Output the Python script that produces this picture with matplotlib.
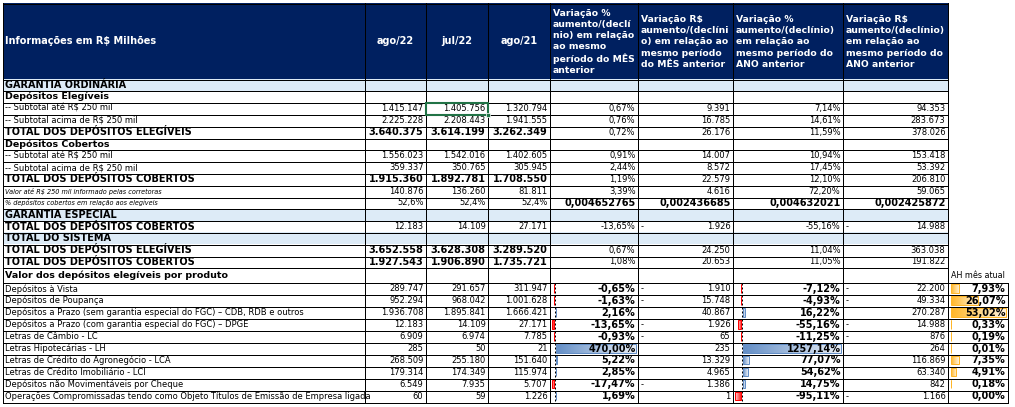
import matplotlib.pyplot as plt
from matplotlib.patches import Rectangle
from matplotlib.colors import to_rgb
import numpy as np

# =========================
# DATA
# =========================
row_labels = [
    "GARANTIA ORDINÁRIA",
    "Depósitos Elegíveis",
    "-- Subtotal até R$ 250 mil",
    "-- Subtotal acima de R$ 250 mil",
    "TOTAL DOS DEPÓSITOS ELEGÍVEIS",
    "Depósitos Cobertos",
    "-- Subtotal até R$ 250 mil",
    "-- Subtotal acima de R$ 250 mil",
    "TOTAL DOS DEPÓSITOS COBERTOS",
    "Valor até R$ 250 mil informado pelas corretoras",
    "% depósitos cobertos em relação aos elegíveis",
    "GARANTIA ESPECIAL",
    "TOTAL DOS DEPÓSITOS COBERTOS",
    "TOTAL DO SISTEMA",
    "TOTAL DOS DEPÓSITOS ELEGÍVEIS",
    "TOTAL DOS DEPÓSITOS COBERTOS",
    "Valor dos depósitos elegíveis por produto",
    "Depósitos à Vista",
    "Depósitos de Poupança",
    "Depósitos a Prazo (sem garantia especial do FGC) – CDB, RDB e outros",
    "Depósitos a Prazo (com garantia especial do FGC) – DPGE",
    "Letras de Câmbio - LC",
    "Letras Hipotecárias - LH",
    "Letras de Crédito do Agronegócio - LCA",
    "Letras de Crédito Imobiliário - LCI",
    "Depósitos não Movimentáveis por Cheque",
    "Operações Compromissadas tendo como Objeto Títulos de Emissão de Empresa ligada",
]
row_kinds = ["sec", "sub", "item", "item", "total", "sub", "item", "item", "total",
             "ital", "ratio", "sec", "total2", "sec", "total", "total", "sub"] + ["prod"] * 10

col_headers = [
    "Informações em R$ Milhões", "ago/22", "jul/22", "ago/21",
    "Variação %\naumento/(declí\nnio) em relação\nao mesmo\nperíodo do MÊS\nanterior",
    "Variação R$\naumento/(declíni\no) em relação ao\nmesmo período\ndo MÊS anterior",
    "Variação %\naumento/(declínio)\nem relação ao\nmesmo período do\nANO anterior",
    "Variação R$\naumento/(declínio)\nem relação ao\nmesmo período do\nANO anterior",
]

N = None
ago22 = [N, N, 1415147, 2225228, 3640375, N, 1556023, 359337, 1915360, 140876, 52.6,
         N, 12183, N, 3652558, 1927543, N,
         289747, 952294, 1936708, 12183, 6909, 285, 268509, 179314, 6549, 60]
jul22 = [N, N, 1405756, 2208443, 3614199, N, 1542016, 350765, 1892781, 136260, 52.4,
         N, 14109, N, 3628308, 1906890, N,
         291657, 968042, 1895841, 14109, 6974, 50, 255180, 174349, 7935, 59]
ago21 = [N, N, 1320794, 1941555, 3262349, N, 1402605, 305945, 1708550, 81811, 52.4,
         N, 27171, N, 3289520, 1735721, N,
         311947, 1001628, 1666421, 27171, 7785, 21, 151640, 115974, 5707, 1226]
var_pct_mes = [N, N, 0.67, 0.76, 0.72, N, 0.91, 2.44, 1.19, 3.39, 0.004652765,
               N, -13.65, N, 0.67, 1.08, N,
               -0.65, -1.63, 2.16, -13.65, -0.93, 470.00, 5.22, 2.85, -17.47, 1.69]
var_rs_mes = [N, N, 9391, 16785, 26176, N, 14007, 8572, 22579, 4616, 0.002436685,
              N, -1926, N, 24250, 20653, N,
              -1910, -15748, 40867, -1926, -65, 235, 13329, 4965, -1386, 1]
var_pct_ano = [N, N, 7.14, 14.61, 11.59, N, 10.94, 17.45, 12.10, 72.20, 0.004632021,
               N, -55.16, N, 11.04, 11.05, N,
               -7.12, -4.93, 16.22, -55.16, -11.25, 1257.14, 77.07, 54.62, 14.75, -95.11]
var_rs_ano = [N, N, 94353, 283673, 378026, N, 153418, 53392, 206810, 59065, 0.002425872,
              N, -14988, N, 363038, 191822, N,
              -22200, -49334, 270287, -14988, -876, 264, 116869, 63340, 842, -1166]
ah_label = "AH mês atual"
ah_mes_atual = [7.93, 26.07, 53.02, 0.33, 0.19, 0.01, 7.35, 4.91, 0.18, 0.00]

# =========================
# LAYOUT
# =========================
W, H = 1015, 407
NAVY = "#002060"
LIGHT = "#DDEBF7"
BLUE = "#638EC6"
RED = "#FF0000"
ORANGE = "#FFB628"
LW = 0.72  # 1 px

col_x = [3, 365, 426, 488, 550, 638, 733, 843, 948]
ah_x = (948, 1008)
head_top, head_bot = 3, 79
heights = [11.8] * 16 + [15] + [11.95] * 10
row_y = [head_bot]
for h in heights:
    row_y.append(row_y[-1] + h)

fig = plt.figure(figsize=(W / 100, H / 100), dpi=100)
ax = fig.add_axes([0, 0, 1, 1])
ax.axis("off")

FS = 6.0
FSB = 7.0


def br_int(v):
    return f"{abs(v):,.0f}".replace(",", ".")


def br_pct(v, d=2):
    return f"{v:.{d}f}%".replace(".", ",")


def br_dec(v):
    return f"{v:.9f}".replace(".", ",")


def cell_text(ci, ri, s, bold=False, dash=False):
    y = (row_y[ri] + row_y[ri + 1]) / 2
    ax.text(col_x[ci + 1] - 2.5, y, s, ha="right", va="center",
            fontsize=FSB if bold else FS, fontweight="bold" if bold else "normal", zorder=5)
    if dash:
        ax.text(col_x[ci] + 3, y, "-", ha="left", va="center", fontsize=FS, zorder=5)


def grad_bar(x0, x1, y0, y1, color, reverse=False):
    rgb = np.array(to_rgb(color))
    t = np.linspace(0, 1, 64)[:, None]
    cols = rgb * (1 - 0.85 * t) + 0.85 * t
    if reverse:
        cols = cols[::-1]
    lo, hi = min(x0, x1), max(x0, x1)
    ax.imshow(cols[None, :, :], extent=(lo, hi, y1, y0), aspect="auto",
              interpolation="bilinear", zorder=3)
    ax.add_patch(Rectangle((lo, y0), hi - lo, y1 - y0, fill=False, ec=color, lw=LW, zorder=3.5))


# header
ax.add_patch(Rectangle((col_x[0], head_top), col_x[-1] - col_x[0], head_bot - head_top,
                       fc=NAVY, ec="none", zorder=1))
hy = (head_top + head_bot) / 2
ax.text(col_x[0] + 2, hy, col_headers[0], color="white", fontweight="bold",
        fontsize=FSB, ha="left", va="center", zorder=5)
for ci in (1, 2, 3):
    ax.text((col_x[ci] + col_x[ci + 1]) / 2, hy, col_headers[ci], color="white",
            fontweight="bold", fontsize=FSB, ha="center", va="center", zorder=5)
for ci in (4, 5, 6, 7):
    ax.text(col_x[ci] + 3, hy + 1, col_headers[ci], color="white", fontweight="bold",
            fontsize=6.7, ha="left", va="center", linespacing=1.3, zorder=5)

# section fills
for ri, k in enumerate(row_kinds):
    if k == "sec":
        ax.add_patch(Rectangle((col_x[0], row_y[ri]), col_x[-1] - col_x[0], heights[ri],
                               fc=LIGHT, ec="none", zorder=1))

# grid
for x in col_x:
    ax.plot([x + 0.5, x + 0.5], [head_top, row_y[-1]], color="black", lw=LW, zorder=4)
for y in [head_top] + row_y:
    ax.plot([col_x[0], col_x[-1] + 0.5], [y + 0.5, y + 0.5], color="black", lw=LW, zorder=4)
# AH column
ax.plot([ah_x[1] + 0.5] * 2, [row_y[17], row_y[-1]], color="black", lw=LW, zorder=4)
for y in row_y[17:]:
    ax.plot([ah_x[0], ah_x[1] + 0.5], [y + 0.5, y + 0.5], color="black", lw=LW, zorder=4)

# labels
for ri, (lab, k) in enumerate(zip(row_labels, row_kinds)):
    y = (row_y[ri] + row_y[ri + 1]) / 2
    if k in ("sec", "total", "total2"):
        kw = dict(fontsize=FSB, fontweight="bold")
    elif k == "sub":
        kw = dict(fontsize=6.8, fontweight="bold")
    elif k in ("ital", "ratio"):
        kw = dict(fontsize=4.7, fontstyle="italic")
    else:
        kw = dict(fontsize=FS)
    t = ax.text(col_x[0] + 2, y, lab, ha="left", va="center", zorder=5, **kw)
    clip = Rectangle((col_x[0], row_y[ri]), col_x[1] - col_x[0], heights[ri], transform=ax.transData)
    t.set_clip_path(clip)

# values
for ri, k in enumerate(row_kinds):
    if ago22[ri] is None:
        continue
    for ci, series in ((1, ago22), (2, jul22), (3, ago21)):
        v = series[ri]
        s = br_pct(v, 1) if k == "ratio" else br_int(v)
        cell_text(ci, ri, s, bold=(k == "total"))
    if k == "ratio":
        for ci, series in ((4, var_pct_mes), (5, var_rs_mes), (6, var_pct_ano), (7, var_rs_ano)):
            cell_text(ci, ri, br_dec(series[ri]), bold=True)
        continue
    pb = k == "prod"
    cell_text(4, ri, br_pct(var_pct_mes[ri]), bold=pb)
    cell_text(5, ri, br_int(var_rs_mes[ri]), dash=var_rs_mes[ri] < 0)
    cell_text(6, ri, br_pct(var_pct_ano[ri]), bold=pb)
    cell_text(7, ri, br_int(var_rs_ano[ri]), dash=var_rs_ano[ri] < 0)

# data bars in the product rows
prod = [i for i, k in enumerate(row_kinds) if k == "prod"]
for ci, series in ((4, var_pct_mes), (6, var_pct_ano)):
    vals = np.array([series[i] for i in prod])
    left, right = col_x[ci] + 2, col_x[ci + 1] - 2
    vmin, vmax = min(vals.min(), 0), vals.max()
    axis_x = left + (right - left) * (-vmin) / (vmax - vmin)
    ax.plot([axis_x, axis_x], [row_y[prod[0]], row_y[prod[-1] + 1]], color="black",
            lw=LW, ls=(0, (2, 2)), zorder=4.5)
    for i, v in zip(prod, vals):
        y0, y1 = row_y[i] + 1.5, row_y[i + 1] - 2
        if v >= 0:
            grad_bar(axis_x + 1, axis_x + 1 + (right - axis_x - 1) * v / vmax, y0, y1, BLUE)
        else:
            grad_bar(axis_x - 1 - (axis_x - 1 - left) * v / vmin, axis_x - 1, y0, y1, RED,
                     reverse=True)

# AH column
ax.text(ah_x[0] + 3, (row_y[16] + row_y[17]) / 2, ah_label, ha="left", va="center",
        fontsize=5.8, zorder=5)
amax = max(ah_mes_atual)
for i, v in zip(prod, ah_mes_atual):
    y0, y1 = row_y[i] + 1.5, row_y[i + 1] - 2
    if v > 0:
        grad_bar(ah_x[0] + 3, ah_x[0] + 3 + (ah_x[1] - ah_x[0] - 5) * v / amax, y0, y1, ORANGE)
    ax.text(ah_x[1] - 2.5, (row_y[i] + row_y[i + 1]) / 2, br_pct(v), ha="right",
            va="center", fontsize=FSB, fontweight="bold", zorder=5)

# selected cell
sel = Rectangle((col_x[2] + 0.5, row_y[2] + 0.5), col_x[3] - col_x[2], heights[2],
                fill=False, ec="#217346", lw=1.5, zorder=6)
ax.add_patch(sel)
ax.add_patch(Rectangle((col_x[3] - 1.5, row_y[3] - 1.5), 4, 4, fc="#217346", ec="white",
                       lw=0.5, zorder=6.5))

ax.set_xlim(0, W)
ax.set_ylim(H, 0)
fig.savefig("out.png", dpi=100)
